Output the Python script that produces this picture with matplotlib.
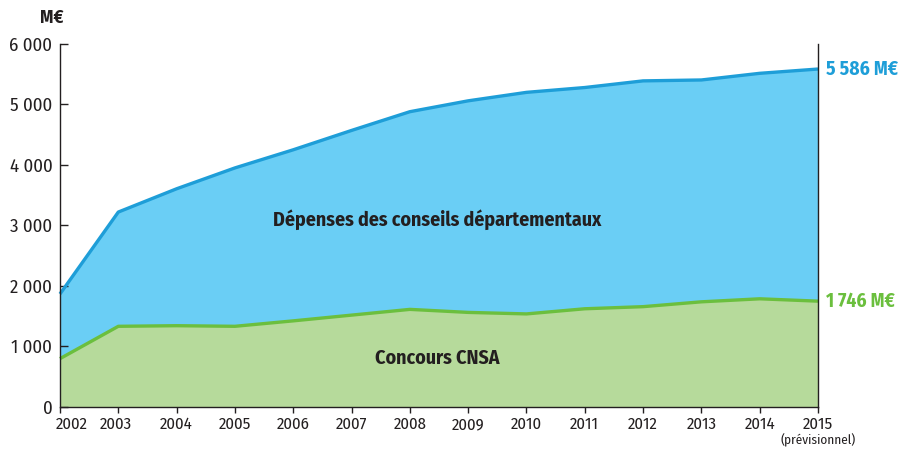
import matplotlib
matplotlib.use("Agg")
import matplotlib.pyplot as plt
import matplotlib.transforms as mtransforms
from matplotlib import font_manager

years = [2002, 2003, 2004, 2005, 2006, 2007, 2008, 2009, 2010, 2011, 2012, 2013, 2014, 2015]
depenses = [1865, 3220, 3605, 3950, 4250, 4570, 4880, 5060, 5200, 5280, 5390, 5405, 5515, 5586]
cnsa = [795, 1330, 1340, 1330, 1420, 1515, 1610, 1560, 1535, 1620, 1655, 1735, 1785, 1746]
y_ticks = [0, 1000, 2000, 3000, 4000, 5000, 6000]
y_labels = ["0", "1 000", "2 000", "3 000", "4 000", "5 000", "6 000"]
label_dep = "Dépenses des conseils départementaux"
label_cnsa = "Concours CNSA"
end_dep = "5 586 M€"
end_cnsa = "1 746 M€"

avail = {f.name for f in font_manager.fontManager.ttflist}
cands = ["Fira Sans Condensed", "Roboto Condensed", "PT Sans Narrow", "Encode Sans Condensed",
         "Open Sans Condensed", "Liberation Sans Narrow", "Arial Narrow"]
fam = [f for f in cands if f in avail][:1] + ["DejaVu Sans"]
plt.rcParams['font.family'] = fam

TXT = "#231F20"
BLUE_FILL = "#6ACEF5"
BLUE_LINE = "#1E9ED8"
GREEN_FILL = "#B6DA9B"
GREEN_LINE = "#6BBF3E"

fig = plt.figure(figsize=(9.01, 4.51), dpi=100)
ax = fig.add_axes([60/901, 44.3/451, (818-60)/901, (406.7-44)/451])

ax.fill_between(years, cnsa, depenses, color=BLUE_FILL, lw=0)
ax.fill_between(years, 0, cnsa, color=GREEN_FILL, lw=0)
ax.plot(years, depenses, color=BLUE_LINE, lw=2.4, solid_capstyle='butt', clip_on=False)
ax.plot(years, cnsa, color=GREEN_LINE, lw=2.4, solid_capstyle='butt', clip_on=False)

ax.set_xlim(2002, 2015)
ax.set_ylim(0, 6000)
ax.set_yticks(y_ticks)
ax.set_yticklabels(y_labels, fontsize=13.5, color=TXT)
ax.set_xticks(years)
ax.set_xticklabels([str(y) for y in years], fontsize=12, color=TXT)
ax.tick_params(axis='y', direction='in', length=6, width=1, pad=5.5, colors=TXT)
ax.tick_params(axis='x', direction='out', length=4, width=1, pad=3, colors=TXT)
for lab in ax.get_xticklabels():
    if lab.get_text() == "2002":
        lab.set_transform(lab.get_transform() + mtransforms.ScaledTranslation(12/100, 0, fig.dpi_scale_trans))
    if lab.get_text() == "2003":
        lab.set_transform(lab.get_transform() + mtransforms.ScaledTranslation(-2/100, 0, fig.dpi_scale_trans))

for s in ['left', 'right', 'bottom']:
    ax.spines[s].set_color(TXT)
    ax.spines[s].set_linewidth(1)
ax.spines['top'].set_visible(False)

ax.text(2008.47, 3100, label_dep, fontsize=14.3, fontweight='bold', color=TXT, ha='center', va='center')
ax.text(2008.47, 800, label_cnsa, fontsize=14.3, fontweight='bold', color=TXT, ha='center', va='center')

ax.annotate(end_dep, xy=(2015, depenses[-1]), xytext=(6, 0), textcoords='offset points',
            fontsize=14, fontweight='bold', color=BLUE_LINE, ha='left', va='center', annotation_clip=False)
ax.annotate(end_cnsa, xy=(2015, cnsa[-1]), xytext=(6, 0), textcoords='offset points',
            fontsize=14, fontweight='bold', color=GREEN_LINE, ha='left', va='center', annotation_clip=False)

fig.text(52/901, 1 - 18/451, "M€", fontsize=13.5, fontweight='bold', color=TXT, ha='center', va='center')
fig.text(818/901, 1 - 440/451, "(prévisionnel)", fontsize=9.5, color=TXT, ha='center', va='center')

fig.savefig("out.png", dpi=100)
